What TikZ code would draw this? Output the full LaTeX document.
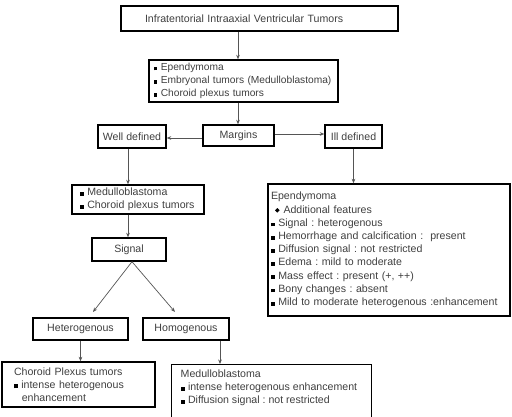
\documentclass[tikz,border=0pt]{standalone}
\usepackage{fontspec}
\setmainfont{Liberation Sans}
\usetikzlibrary{arrows.meta}
\definecolor{txt}{HTML}{3F3F3F}
\definecolor{arrc}{HTML}{555555}
\newcommand\sqb{{\color{black}\rule{3.8pt}{3.8pt}}\hspace{3.5pt}}
\newcommand\dmb{\raisebox{0.6pt}{\color{black}\rotatebox{45}{\rule{3.2pt}{3.2pt}}}\hspace{4pt}}
\begin{document}
\begin{tikzpicture}[x=1pt,y=-1pt,
 box/.style={draw=black,line width=1.4pt,text=txt,font=\fontsize{10.6}{13.2}\selectfont\frenchspacing,inner ysep=0pt},
 arr/.style={draw=arrc,line width=0.7pt,-{Stealth[length=4.5pt,width=3.6pt]}}]
\useasboundingbox (0,0) rectangle (512,417);
\node[box,minimum width=277,minimum height=25,text width=229,inner xsep=24,align=left] (title) at (259.5,18.5) {Infratentorial Intraaxial Ventricular Tumors};
\node[box,minimum width=189,minimum height=42,text width=180,inner xsep=4.5,align=left,font=\fontsize{10.2}{13.2}\selectfont\frenchspacing] (list1) at (243.5,81) {\sqb Ependymoma\\ \sqb Embryonal tumors (Medulloblastoma)\\ \sqb Choroid plexus tumors};
\node[box,minimum width=71,minimum height=21] (margins) at (238.5,135.5) {Margins};
\node[box,minimum width=68,minimum height=23,inner xsep=1pt] (well) at (132,136.5) {Well defined};
\node[box,minimum width=57,minimum height=23,inner xsep=1pt] (ill) at (353.5,136.5) {Ill defined};
\node[box,minimum width=132,minimum height=29,text width=116,inner xsep=8,align=left] (list2) at (138,199.5) {\sqb Medulloblastoma\\ \sqb Choroid plexus tumors};
\node[box,minimum width=74,minimum height=23] (signal) at (129,249.5) {Signal};
\node[box,minimum width=95,minimum height=22] (hetero) at (80.5,329) {Heterogenous};
\node[box,minimum width=86,minimum height=22] (homo) at (186,329) {Homogenous};
\node[box,minimum width=153,minimum height=45,text width=129,inner xsep=12,align=left] (choroid) at (78.5,384.5) {Choroid Plexus tumors\\ \sqb intense heterogenous\\ \hspace*{7.8pt}enhancement};
\node[box,anchor=north west,minimum width=200,inner xsep=9,inner ysep=5] (medullo) at (171,364) {\parbox[t][52pt][t]{182pt}{\raggedright Medulloblastoma\\ \sqb intense heterogenous enhancement\\ \sqb Diffusion signal : not restricted}};
\node[box,minimum width=242,minimum height=132,text width=236,inner xsep=3,align=left] (epend) at (389,250) {Ependymoma\\ \hspace*{4pt}\dmb Additional features\\ \sqb Signal : heterogenous\\ \sqb Hemorrhage and calcification :\ \ present\\ \sqb Diffusion signal : not restricted\\ \sqb Edema : mild to moderate\\ \sqb Mass effect : present (+, ++)\\ \sqb Bony changes : absent\\ \sqb Mild to moderate heterogenous :enhancement};
\coordinate (xa) at (238,0);
\coordinate (xb) at (128,0);
\coordinate (xc) at (220,0);
\coordinate (ht) at (93,312);
\coordinate (hm) at (175,312);
\draw[arr] (title.south -| xa) -- (list1.north -| xa);
\draw[arr] (list1.south -| xa) -- (margins.north -| xa);
\draw[arr] ([yshift=-2.5pt]margins.west) -- ([yshift=-2.5pt]margins.west -| well.east);
\draw[arr] ([yshift=1.5pt]margins.east) -- ([yshift=1.5pt]margins.east -| ill.west);
\draw[arr] (well.south -| xb) -- (list2.north -| xb);
\draw[arr] (list2.south -| xb) -- (signal.north -| xb);
\draw[arr] (ill.south) -- (ill.south |- epend.north);
\draw[arr] ([xshift=3pt]signal.south) -- (ht);
\draw[arr] ([xshift=3pt]signal.south) -- (hm);
\draw[arr] (hetero.south) -- (hetero.south |- choroid.north);
\draw[arr] (homo.south -| xc) -- (medullo.north -| xc);
\end{tikzpicture}
\end{document}
